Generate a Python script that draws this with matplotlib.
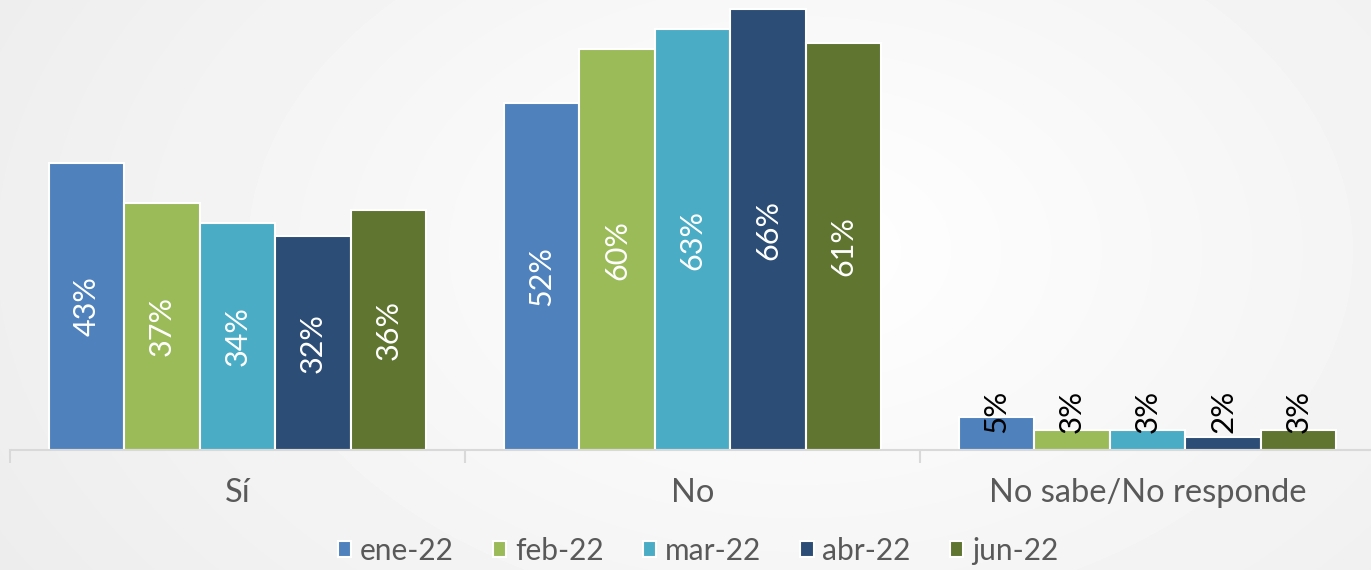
import numpy as np
import matplotlib
matplotlib.use("Agg")
import matplotlib.pyplot as plt

categories = ["Sí", "No", "No sabe/No responde"]
series_names = ["ene-22", "feb-22", "mar-22", "abr-22", "jun-22"]
ene = [43, 52, 5]
feb = [37, 60, 3]
mar = [34, 63, 3]
abr = [32, 66, 2]
jun = [36, 61, 3]
series_values = [ene, feb, mar, abr, jun]
colors = ["#4F81BD", "#9BBB59", "#4BACC6", "#2C4D75", "#5F7530"]

plt.rcParams['font.family'] = ['Lato', 'DejaVu Sans']

W, H = 1371, 570
fig = plt.figure(figsize=(W / 100, H / 100), dpi=100)

# background radial gradient
bg = fig.add_axes([0, 0, 1, 1])
yy, xx = np.mgrid[0:H, 0:W]
d = np.sqrt(((xx - 800) / 900.0) ** 2 + ((yy - 250) / 600.0) ** 2)
g = 1.0 - 0.07 * np.clip(d, 0, 1.2)
bg.imshow(g, cmap="gray", vmin=0, vmax=1, aspect="auto", extent=[0, 1, 0, 1])
bg.axis("off")

left = 10 / W
width = 1365 / W
bottom = 120 / H
top_px = 5
height = (450 - top_px) / H
ax = fig.add_axes([left, bottom, width, height])
ax.patch.set_alpha(0)

n = len(series_names)
bw = 0.166
x = np.arange(len(categories))
for i, (name, vals, c) in enumerate(zip(series_names, series_values, colors)):
    xs = x + (i - (n - 1) / 2) * bw
    ax.bar(xs, vals, width=bw, color=c, edgecolor="white", linewidth=1.5, label=name, zorder=2)
    for xi, v in zip(xs, vals):
        if v >= 10:
            ax.text(xi, v / 2, f"{v}%", rotation=90, ha="center", va="center",
                    color="white", fontsize=22, zorder=3)
        else:
            ax.text(xi, 2.5, f"{v}%", rotation=90, ha="center", va="bottom",
                    color="black", fontsize=22.5, zorder=3)

ax.set_xlim(-0.5, len(categories) - 0.5)
ax.set_ylim(0, (450 - top_px) / 6.68)
ax.set_yticks([])
for s in ["top", "right", "left"]:
    ax.spines[s].set_visible(False)
ax.spines["bottom"].set_color("#d9d9d9")
ax.spines["bottom"].set_linewidth(1.5)
ax.set_xticks(np.arange(-0.5, len(categories), 1.0), minor=False)
ax.set_xticklabels([])
ax.tick_params(axis="x", which="major", length=9, width=1.5, color="#d9d9d9")
ax.set_xticks(x, minor=True)
ax.set_xticklabels(categories, minor=True)
ax.tick_params(axis="x", which="minor", length=0, pad=20, labelsize=23.5, labelcolor="#595959")

leg = fig.legend(loc="center", bbox_to_anchor=(698 / W, 1 - 551 / H), ncol=5, frameon=False,
                 fontsize=21.5, labelcolor="#595959", handlelength=0.45, handleheight=0.45,
                 handletextpad=0.3, columnspacing=1.3)

fig.savefig("out.png", dpi=100)
